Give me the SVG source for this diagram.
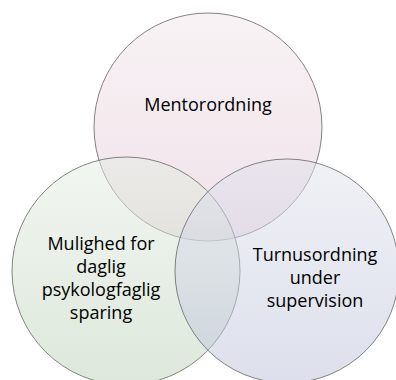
<svg xmlns="http://www.w3.org/2000/svg" width="396" height="380" viewBox="0 0 396 380">
  <defs>
    <linearGradient id="gPink" x1="0" y1="0" x2="0" y2="1">
      <stop offset="0" stop-color="#f1e6eb"/>
      <stop offset="1" stop-color="#e0c4d1"/>
    </linearGradient>
    <linearGradient id="gGreen" x1="0" y1="0" x2="0" y2="1">
      <stop offset="0" stop-color="#e5ede3"/>
      <stop offset="1" stop-color="#bbd1b7"/>
    </linearGradient>
    <linearGradient id="gBlue" x1="0" y1="0" x2="0" y2="1">
      <stop offset="0" stop-color="#e1e3ed"/>
      <stop offset="1" stop-color="#bbc1d9"/>
    </linearGradient>
  </defs>
  <style>
    .c { fill-opacity: 0.5; stroke: #6e6e6e; stroke-width: 1; stroke-opacity: 0.85; }
    .t { font-family: "Open Sans", "Noto Sans", "Liberation Sans", sans-serif; font-size: 18px; fill: #000; text-anchor: middle; }
  </style>
  <rect width="396" height="380" fill="#ffffff"/>
  <g id="node-mentorordning">
    <circle class="c" cx="208" cy="127" r="114" fill="url(#gPink)"/>
  </g>
  <g id="node-mulighed">
    <circle class="c" cx="126" cy="271" r="114" fill="url(#gGreen)"/>
  </g>
  <g id="node-turnusordning">
    <circle class="c" cx="287" cy="271" r="112" fill="url(#gBlue)"/>
  </g>
  <g id="labels">
    <text class="t" x="208" y="111">Mentorordning</text>
    <text class="t" x="101" y="250">Mulighed for</text>
    <text class="t" x="101" y="273">daglig</text>
    <text class="t" x="101" y="296">psykologfaglig</text>
    <text class="t" x="101" y="319">sparing</text>
    <text class="t" x="315" y="261">Turnusordning</text>
    <text class="t" x="315" y="284">under</text>
    <text class="t" x="315" y="307">supervision</text>
  </g>
  <g id="connectors"/>
</svg>
